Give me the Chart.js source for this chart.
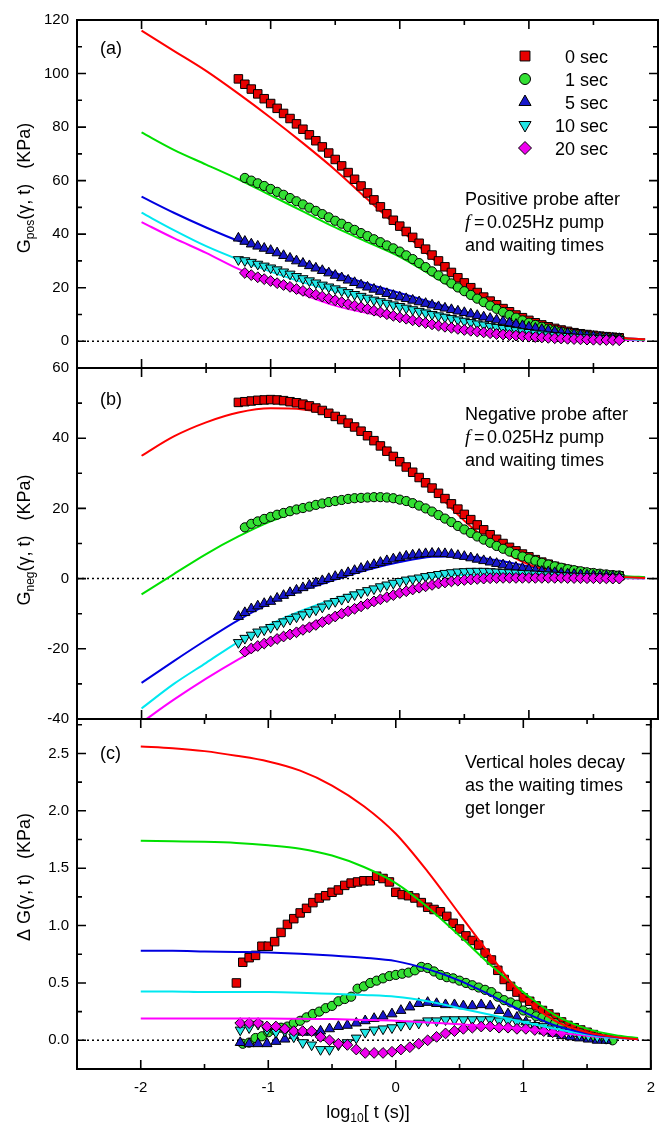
<!DOCTYPE html>
<html><head><meta charset="utf-8">
<script src="https://cdn.jsdelivr.net/npm/chart.js@4.4.1/dist/chart.umd.min.js"></script>
<style>
html,body{margin:0;padding:0;background:#fff;}
#wrap{position:relative;width:665px;height:1128px;overflow:hidden;background:#fff;}
canvas{position:absolute;left:0;}
</style></head><body>
<div id="wrap">
<canvas id="cA" width="665" height="385" style="top:0px"></canvas>
<canvas id="cB" width="665" height="385" style="top:351px"></canvas>
<canvas id="cC" width="665" height="426" style="top:702px"></canvas>
</div>
<script>
// ---------- x positions (log10 t) ----------
const xData = [-1.25,-1.20,-1.15,-1.10,-1.05,-1.00,-0.95,-0.90,-0.85,-0.80,
 -0.75,-0.70,-0.65,-0.60,-0.55,-0.50,-0.45,-0.40,-0.35,-0.30,
 -0.25,-0.20,-0.15,-0.10,-0.05,0.00,0.05,0.10,0.15,0.20,
 0.25,0.30,0.35,0.40,0.45,0.50,0.55,0.60,0.65,0.70,
 0.75,0.80,0.85,0.90,0.95,1.00,1.05,1.10,1.15,1.20,
 1.25,1.30,1.35,1.40,1.45,1.50,1.55,1.60,1.65,1.70];
const xSparse = [-1.22,-1.15,-1.08,-1.01,-0.94,-0.87,-0.80,-0.73,-0.66,-0.59,
 -0.52,-0.45,-0.38,-0.31,-0.24,-0.17,-0.10,-0.03,0.04,0.11,
 0.18,0.25,0.32,0.39,0.46,0.53,0.60,0.67,0.74,0.81,
 0.88,0.95,1.02,1.09,1.16,1.23,1.30,1.37,1.44,1.51,1.58,1.65];
const xFit = [-2,-1.75,-1.5,-1.25,-1,-0.75,-0.5,-0.25,0,0.25,0.5,0.75,1,1.25,1.5,1.75,1.9];
const seriesNames = ['0 sec','1 sec','5 sec','10 sec','20 sec'];

// ---------- panel (a): G_pos ----------
const aRed = [98,96,94.2,92.4,90.6,88.8,87,85.1,83.2,81.2,
 79.2,77.1,74.9,72.6,70.3,67.9,65.5,63,60.5,58,
 55.4,52.8,50.2,47.6,45.2,43,41,38.8,36.6,34.4,
 32.2,30,27.8,25.7,23.7,21.8,20,18.2,16.5,15,
 13.6,12.2,11,9.8,8.8,7.8,6.9,6.1,5.4,4.8,
 4.2,3.7,3.2,2.8,2.5,2.2,1.9,1.7,1.5,1.3];
const aGreen = [null,61,60,59,58,56.9,55.8,54.7,53.5,52.3,
 51.1,49.9,48.7,47.5,46.3,45,43.9,42.7,41.6,40.4,
 39.3,38.1,37,35.8,34.7,33.5,32.1,30.7,29.2,27.7,
 26.1,24.6,23.1,21.6,20.1,18.7,17.3,15.9,14.6,13.3,
 12.1,10.9,9.8,8.8,7.8,6.9,6.1,5.4,4.7,4.1,
 3.6,3.1,2.7,2.3,2.0,1.7,1.5,1.3,1.1,1.0];
const aBlue = [38.5,37.3,36.3,35.5,34.7,33.9,33,32,31,30,
 29.1,28.2,27.3,26.4,25.5,24.6,23.7,22.8,21.9,21,
 20.2,19.4,18.6,17.8,17.1,16.5,15.9,15.3,14.7,14.1,
 13.5,12.9,12.35,11.8,11.25,10.7,10.15,9.6,9.05,8.5,
 7.95,7.4,6.85,6.3,5.8,5.3,4.85,4.4,4,3.6,
 3.25,2.9,2.6,2.3,2.05,1.8,1.55,1.3,1.15,1.0];
const aCyan = [30.5,30.1,29.5,28.8,28.1,27.4,26.7,25.9,25.1,24.2,
 23.4,22.6,21.8,21,20.3,19.6,18.9,18.2,17.5,16.8,
 16.1,15.4,14.8,14.2,13.6,13,12.4,11.8,11.2,10.6,
 10,9.5,9,8.5,8,7.5,7,6.5,6.1,5.6,
 5.2,4.8,4.4,4,3.6,3.3,3,2.7,2.4,2.2,
 2,1.8,1.6,1.4,1.3,1.15,1.0,0.9,0.8,0.7];
const aMag = [null,25.5,24.7,23.9,23.2,22.5,21.7,21,20.3,19.5,
 18.8,18.1,17.4,16.7,16,15.3,14.6,13.9,13.3,12.7,
 12.1,11.4,10.8,10.1,9.5,8.9,8.4,7.8,7.3,6.8,
 6.3,5.8,5.4,5,4.6,4.2,3.9,3.6,3.3,3,
 2.7,2.5,2.3,2.1,1.9,1.7,1.55,1.4,1.25,1.1,
 1.0,0.9,0.8,0.7,0.6,0.55,0.5,0.45,0.4,0.35];
const aRedFit = [116,108.5,101,92.5,83.5,74,64,53,42,31,21.5,13.5,8,4.5,2.3,1.1,0.7];
const aGreenFit = [78,71.5,66,60.5,54.5,48.5,42.5,37,31.5,24.5,17.5,11.5,6.8,3.8,2,1,0.6];
const aBlueFit = [54,48,42.5,37.5,33.5,29.5,25.5,21.5,18,14.5,11,8,5.5,3.5,2,1.1,0.7];
const aCyanFit = [48,41.5,35.5,30.5,26,22,18.8,16,13.5,11,8.3,5.8,3.8,2.4,1.4,0.8,0.5];
const aMagFit = [44.5,38.5,33,27,22,17.5,13.3,10.5,8.2,6.2,4.5,3,2,1.3,0.8,0.45,0.3];

// ---------- panel (b): G_neg ----------
const bRed = [50.2,50.4,50.6,50.8,50.9,51,50.9,50.7,50.4,50.1,
 49.7,49.2,48.6,47.9,47.1,46.2,45.3,44.3,43.2,42,
 40.7,39.3,37.8,36.3,34.8,33.3,31.8,30.3,28.8,27.3,
 25.8,24.3,22.8,21.3,19.8,18.3,16.8,15.3,13.9,12.5,
 11.2,10,8.9,7.9,7,6.2,5.4,4.7,4.1,3.5,
 3,2.6,2.2,1.9,1.6,1.4,1.2,1.0,0.9,0.8];
const bGreen = [null,14.6,15.6,16.3,17,17.6,18.2,18.7,19.2,19.7,
 20.1,20.5,21,21.4,21.8,22.1,22.4,22.7,22.9,23,
 23.1,23.2,23.2,23.1,22.9,22.5,22.1,21.5,20.8,20,
 19.1,18.1,17.1,16.1,15,14,13,12,11.1,10.2,
 9.3,8.5,7.7,7,6.3,5.7,5.1,4.5,4,3.5,
 3.1,2.7,2.4,2.1,1.8,1.6,1.4,1.2,1.0,0.9];
const bBlue = [-10.8,-9.7,-8.6,-7.8,-7.1,-6.5,-5.6,-4.8,-4,-3.3,
 -2.6,-1.9,-1.2,-0.6,0,0.6,1.1,1.7,2.3,2.9,
 3.5,4,4.6,5.1,5.6,6,6.4,6.7,6.9,7.1,
 7.2,7.2,7.1,6.9,6.6,6.3,5.9,5.5,5.1,4.7,
 4.3,3.9,3.5,3.2,2.9,2.6,2.3,2.1,1.9,1.7,
 1.5,1.3,1.2,1.1,1.0,0.9,0.8,0.7,0.6,0.5];
const bCyan = [-18.2,-17,-16.1,-15.2,-14.6,-13.9,-13.1,-12.3,-11.6,-10.9,
 -10.3,-9.6,-8.9,-8.1,-7.2,-6.5,-5.9,-5.3,-4.6,-4,
 -3.4,-2.9,-2.3,-1.8,-1.3,-0.8,-0.4,-0.1,0.2,0.6,
 0.9,1.2,1.5,1.7,1.9,2,2.1,2.1,2.1,2,
 1.9,1.8,1.7,1.6,1.5,1.4,1.3,1.2,1.1,1.0,
 0.9,0.8,0.7,0.6,0.55,0.5,0.45,0.4,0.35,0.3];
const bMag = [null,-20.8,-19.9,-19.2,-18.5,-17.9,-17.2,-16.5,-15.9,-15.3,
 -14.6,-13.9,-13.2,-12.4,-11.6,-10.8,-10,-9.3,-8.6,-7.9,
 -7.2,-6.5,-5.9,-5.3,-4.7,-4.1,-3.6,-3.1,-2.6,-2.2,
 -1.8,-1.4,-1.1,-0.8,-0.6,-0.4,-0.25,-0.1,0,0.1,
 0.15,0.2,0.2,0.2,0.2,0.2,0.2,0.2,0.2,0.2,
 0.2,0.15,0.15,0.1,0.1,0.1,0.05,0.05,0,0];
const bRedFit = [35,40.5,44.5,47.3,48.5,48.2,46,41,34,25.5,16.5,9,4,1.8,0.8,0.4,0.2];
const bGreenFit = [-4.5,1.3,7,12,16.3,19.5,21.8,22.8,21.8,18.5,13.5,8.8,5.2,2.9,1.5,0.7,0.4];
const bBlueFit = [-29.7,-23.5,-17.5,-11.8,-7,-3.3,-0.3,2.5,4.7,6.2,6.4,5.2,3.5,2,1,0.5,0.3];
const bCyanFit = [-37,-30,-24,-18,-13,-9,-5.7,-3,-1,0.4,1.1,1.2,1,0.7,0.4,0.2,0.1];
const bMagFit = [-41,-34.5,-28.5,-23,-18,-13.8,-10,-6.5,-3.8,-1.8,-0.6,0.1,0.3,0.3,0.2,0.1,0.05];

// ---------- panel (c): delta G ----------
const cRed = [0.50,0.68,0.72,0.74,0.82,0.82,0.86,0.94,1.01,1.06,
 1.11,1.15,1.2,1.24,1.26,1.29,1.31,1.35,1.37,1.38,
 1.39,1.39,1.43,1.41,1.38,1.29,1.27,1.26,1.24,1.2,
 1.16,1.14,1.12,1.08,1.02,0.97,0.91,0.87,0.83,0.76,
 0.7,0.61,0.53,0.47,0.42,0.37,0.34,0.3,0.26,0.23,
 0.2,0.16,0.13,0.11,0.09,0.07,0.05,null,null,null];
const cGreen = [null,-0.03,-0.02,0.02,0.035,0.07,0.09,0.11,0.12,0.15,
 0.17,0.2,0.23,0.25,0.28,0.3,0.34,0.36,0.38,0.45,
 0.47,0.5,0.52,0.54,0.56,0.57,0.58,0.59,0.61,0.64,
 0.63,0.6,0.57,0.55,0.54,0.52,0.5,0.48,0.46,0.44,
 0.42,0.38,0.35,0.33,0.31,0.26,0.24,0.21,0.2,0.18,
 0.15,0.12,0.09,0.07,0.06,0.04,0.03,0.02,0.01,0.0];
const cBlue = [-0.02,-0.03,-0.03,-0.03,-0.01,0.01,0.04,0.07,0.07,0.08,
 0.1,0.12,0.13,0.15,0.17,0.19,0.21,0.23,0.26,0.29,
 0.32,0.33,0.32,0.31,0.31,0.3,0.3,0.31,0.3,0.26,
 0.23,0.2,0.16,0.12,0.08,0.06,0.04,0.03,0.02,0.01,0.0,0.0];
const cCyan = [0.09,0.11,0.14,0.09,0.07,0.08,0.03,-0.02,-0.04,-0.08,
 -0.08,-0.04,-0.02,0.02,0.07,0.09,0.1,0.11,0.13,0.14,
 0.15,0.17,0.17,0.18,0.18,0.18,0.18,0.18,0.18,0.17,
 0.17,0.16,0.15,0.13,0.12,0.1,0.09,0.07,0.05,0.04,0.03,0.02];
const cMag = [0.15,0.15,0.15,0.12,0.12,0.1,0.08,0.08,0.08,0.03,
 0.0,-0.03,-0.04,-0.08,-0.11,-0.11,-0.11,-0.1,-0.08,-0.06,
 -0.03,0.0,0.03,0.06,0.08,0.1,0.11,0.12,0.12,0.11,
 0.11,0.1,0.1,0.09,0.08,0.07,0.06,null,null,null,null,null];
const cRedFit = [2.56,2.545,2.52,2.48,2.43,2.35,2.22,2.04,1.8,1.47,1.1,0.73,0.38,0.17,0.07,0.025,0.01];
const cGreenFit = [1.74,1.735,1.73,1.72,1.7,1.67,1.61,1.51,1.37,1.16,0.91,0.65,0.42,0.22,0.1,0.04,0.02];
const cBlueFit = [0.78,0.78,0.775,0.77,0.765,0.755,0.74,0.72,0.69,0.62,0.52,0.39,0.25,0.13,0.06,0.025,0.01];
const cCyanFit = [0.425,0.425,0.42,0.42,0.42,0.415,0.405,0.395,0.38,0.34,0.28,0.22,0.16,0.1,0.05,0.02,0.01];
const cMagFit = [0.19,0.19,0.19,0.19,0.19,0.187,0.185,0.178,0.17,0.155,0.14,0.12,0.1,0.07,0.04,0.02,0.01];

// ---------- ticks ----------
const xTickMajor = [-2,-1,0,1,2];
const xTickMinor = [-1.5,-0.5,0.5,1.5];
const yTicksA = [0,20,40,60,80,100,120], yMinorA = [10,30,50,70,90,110];
const yTicksB = [-40,-20,0,20,40,60], yMinorB = [-30,-10,10,30,50];
const yTicksC = [0,0.5,1,1.5,2,2.5], yMinorC = [0.25,0.75,1.25,1.75,2.25,2.75];

// ---------- styles ----------
const SANS = '"Liberation Sans", Arial, Helvetica, sans-serif';
const SERIF_I = 'italic 19px "Liberation Serif", "Times New Roman", serif';
Chart.defaults.font.family = SANS;
Chart.defaults.color = '#000';
const STY = [
  {fill:'#e80000', line:'#ff0000', shape:'rect', r:6, rot:0, lr:7},
  {fill:'#33e033', line:'#00e000', shape:'circle', r:4.6, rot:0, lr:5.5},
  {fill:'#1818cc', line:'#0000e0', shape:'triangle', r:5.8, rot:0, lr:7},
  {fill:'#22e6e6', line:'#00e8f0', shape:'triangle', r:5.8, rot:180, lr:7},
  {fill:'#ee00ee', line:'#ff00ff', shape:'rectRot', r:5.4, rot:0, lr:6.5}
];

function pts(xs, ys){ const o=[]; for(let i=0;i<xs.length;i++){ if(ys[i]!==null && ys[i]!==undefined) o.push({x:xs[i], y:ys[i]}); } return o; }
function scat(xs, ys, i, order){ const s=STY[i]; return {label:seriesNames[i], data:pts(xs,ys), showLine:false, pointStyle:s.shape, rotation:s.rot, pointRotation:s.rot, pointRadius:s.r, pointBackgroundColor:s.fill, pointBorderColor:'#000', pointBorderWidth:1, order}; }
function fit(ys, i, order){ const s=STY[i]; return {label:seriesNames[i]+' fit', data:pts(xFit,ys), showLine:true, pointRadius:0, borderColor:s.line, borderWidth:2, cubicInterpolationMode:'monotone', fill:false, order}; }

function marker(ctx, s, cx, cy, r){
  ctx.beginPath();
  if (s.shape==='rect'){ const h=r*Math.SQRT1_2; ctx.rect(cx-h,cy-h,2*h,2*h); }
  else if (s.shape==='circle'){ ctx.arc(cx,cy,r,0,Math.PI*2); }
  else if (s.shape==='triangle'){ const d=s.rot?-1:1; ctx.moveTo(cx,cy-d*r); ctx.lineTo(cx+r*0.866,cy+d*r*0.5); ctx.lineTo(cx-r*0.866,cy+d*r*0.5); ctx.closePath(); }
  else { ctx.moveTo(cx,cy-r); ctx.lineTo(cx+r,cy); ctx.lineTo(cx,cy+r); ctx.lineTo(cx-r,cy); ctx.closePath(); }
  ctx.fillStyle=s.fill; ctx.fill(); ctx.lineWidth=1; ctx.strokeStyle='#000'; ctx.stroke();
}
function txt(ctx, s, x, y, size, align){
  ctx.font = size+'px '+SANS; ctx.textAlign = align||'left'; ctx.textBaseline='alphabetic'; ctx.fillStyle='#000'; ctx.fillText(s,x,y);
}
function compWidth(ctx, parts){ let w=0; parts.forEach(p=>{ ctx.font=p[1]+'px '+SANS; w+=ctx.measureText(p[0]).width; }); return w; }
function compDraw(ctx, parts, x, y){ ctx.textAlign='left'; ctx.textBaseline='alphabetic'; ctx.fillStyle='#000';
  parts.forEach(p=>{ ctx.font=p[1]+'px '+SANS; ctx.fillText(p[0], x, y+p[2]); x+=ctx.measureText(p[0]).width; }); }

function deco(o){
  return {
    id:'deco',
    beforeDatasetsDraw(chart){
      const {ctx, chartArea:a, scales:{y}} = chart;
      const y0 = y.getPixelForValue(0);
      ctx.save(); ctx.strokeStyle='#000'; ctx.lineWidth=1.5; ctx.setLineDash([2,3]);
      ctx.beginPath(); ctx.moveTo(a.left,y0); ctx.lineTo(a.right,y0); ctx.stroke(); ctx.restore();
    },
    afterDraw(chart){
      const {ctx, chartArea:a, scales:{x, y}} = chart;
      const T = o.top;
      ctx.save();
      ctx.setLineDash([]); ctx.strokeStyle='#000';
      ctx.lineWidth=1.6; ctx.beginPath();
      xTickMajor.forEach(v=>{ const p=x.getPixelForValue(v); ctx.moveTo(p,a.top); ctx.lineTo(p,a.top+9); ctx.moveTo(p,a.bottom); ctx.lineTo(p,a.bottom-9); });
      xTickMinor.forEach(v=>{ const p=x.getPixelForValue(v); ctx.moveTo(p,a.top); ctx.lineTo(p,a.top+5); ctx.moveTo(p,a.bottom); ctx.lineTo(p,a.bottom-5); });
      o.yTicks.forEach(v=>{ const p=y.getPixelForValue(v); ctx.moveTo(a.left,p); ctx.lineTo(a.left+9,p); ctx.moveTo(a.right,p); ctx.lineTo(a.right-9,p); });
      o.yMinor.forEach(v=>{ const p=y.getPixelForValue(v); ctx.moveTo(a.left,p); ctx.lineTo(a.left+5,p); ctx.moveTo(a.right,p); ctx.lineTo(a.right-5,p); });
      ctx.stroke();
      ctx.lineWidth=2; ctx.strokeRect(a.left,a.top,a.right-a.left,a.bottom-a.top);
      txt(ctx, o.label, 100, o.labelY-T, 18);
      o.notes.forEach((n,i)=>{
        const yy = o.noteY[i]-T;
        if (n==='#f'){
          ctx.font=SERIF_I; ctx.textAlign='left'; ctx.fillStyle='#000'; ctx.fillText('f',465,yy);
          txt(ctx,'=',474,yy,18); txt(ctx,'0.025Hz pump',487,yy,18);
        } else txt(ctx,n,465,yy,18);
      });
      ctx.save(); ctx.translate(23, o.ytY-T); ctx.rotate(-Math.PI/2);
      const w = compWidth(ctx, o.ytParts); compDraw(ctx, o.ytParts, -w/2, 6.5); ctx.restore();
      if (o.legend){
        const rows=[56,79,102,125,148];
        STY.forEach((s,i)=>{ marker(ctx,s,525,rows[i]-T,s.lr); txt(ctx,seriesNames[i],608,rows[i]+7-T,18,'right'); });
      }
      if (o.xTitle){
        const parts=[['log',18,0],['10',12,4],['[ t (s)]',18,0]];
        const wx=compWidth(ctx,parts); compDraw(ctx,parts,368-wx/2,1118-T);
      }
      ctx.restore();
    }
  };
}

function makePanel(id, o){
  return new Chart(document.getElementById(id), {
    type:'scatter',
    data:{datasets:o.datasets},
    options:{
      responsive:false, animation:false, events:[],
      layout:{padding:o.padding},
      plugins:{legend:{display:false}, tooltip:{enabled:false}},
      scales:{
        x:{type:'linear', min:-2.5, max:2, display:o.showX,
           grid:{display:false, drawTicks:false}, border:{display:false},
           afterBuildTicks:s=>{ s.ticks = xTickMajor.map(v=>({value:v})); },
           afterFit:s=>{ s.height = o.showX ? 59 : 0; },
           ticks:{padding:10, maxRotation:0, autoSkip:false, color:'#000', font:{size:15}, callback:v=>String(v)}},
        y:{type:'linear', min:o.yMin, max:o.yMax,
           grid:{display:false, drawTicks:false}, border:{display:false},
           afterBuildTicks:s=>{ s.ticks = o.yTicks.map(v=>({value:v})); },
           afterFit:s=>{ s.width = 77; },
           ticks:{padding:8, color:'#000', font:{size:15}, callback:o.yFmt}}
      }
    },
    plugins:[deco(o)]
  });
}

const FO = 10;
makePanel('cA', {
  top:0, padding:{top:20,right:5,bottom:17,left:0}, showX:false, yMin:-10, yMax:120,
  yTicks:yTicksA, yMinor:yMinorA, yFmt:v=>String(v), label:'(a)', labelY:54, legend:true,
  notes:['Positive probe after','#f','and waiting times'], noteY:[205,228,251],
  ytY:188, ytParts:[['G',18,0],['pos',12,4],['(\u03b3, t)   (KPa)',18,0]],
  datasets:[fit(aRedFit,0,FO),fit(aGreenFit,1,FO),fit(aBlueFit,2,FO),fit(aCyanFit,3,FO),fit(aMagFit,4,FO),
    scat(xData,aRed,0,5),scat(xData,aGreen,1,4),scat(xData,aBlue,2,3),scat(xData,aCyan,3,2),scat(xData,aMag,4,1)]
});
makePanel('cB', {
  top:351, padding:{top:17,right:5,bottom:17,left:0}, showX:false, yMin:-40, yMax:60,
  yTicks:yTicksB, yMinor:yMinorB, yFmt:v=>String(v), label:'(b)', labelY:405, legend:false,
  notes:['Negative probe after','#f','and waiting times'], noteY:[420,443,466],
  ytY:540, ytParts:[['G',18,0],['neg',12,4],['(\u03b3, t)   (KPa)',18,0]],
  datasets:[fit(bRedFit,0,FO),fit(bGreenFit,1,FO),fit(bBlueFit,2,FO),fit(bCyanFit,3,FO),fit(bMagFit,4,FO),
    scat(xData,bRed,0,5),scat(xData,bGreen,1,4),scat(xData,bBlue,2,3),scat(xData,bCyan,3,2),scat(xData,bMag,4,1)]
});
makePanel('cC', {
  top:702, padding:{top:17,right:5,bottom:0,left:0}, showX:true, xTitle:true, yMin:-0.25, yMax:2.8,
  yTicks:yTicksC, yMinor:yMinorC, yFmt:v=>Number(v).toFixed(1), label:'(c)', labelY:759, legend:false,
  notes:['Vertical holes decay','as the waiting times','get longer'], noteY:[768,791,814],
  ytY:877, ytParts:[['\u0394 G(\u03b3, t)   (KPa)',18,0]],
  datasets:[fit(cRedFit,0,0),fit(cGreenFit,1,0),fit(cBlueFit,2,0),fit(cCyanFit,3,0),fit(cMagFit,4,0),
    scat(xData,cRed,0,5),scat(xData,cGreen,1,4),scat(xSparse,cBlue,2,3),scat(xSparse,cCyan,3,2),scat(xSparse,cMag,4,1)]
});
</script></body></html>
